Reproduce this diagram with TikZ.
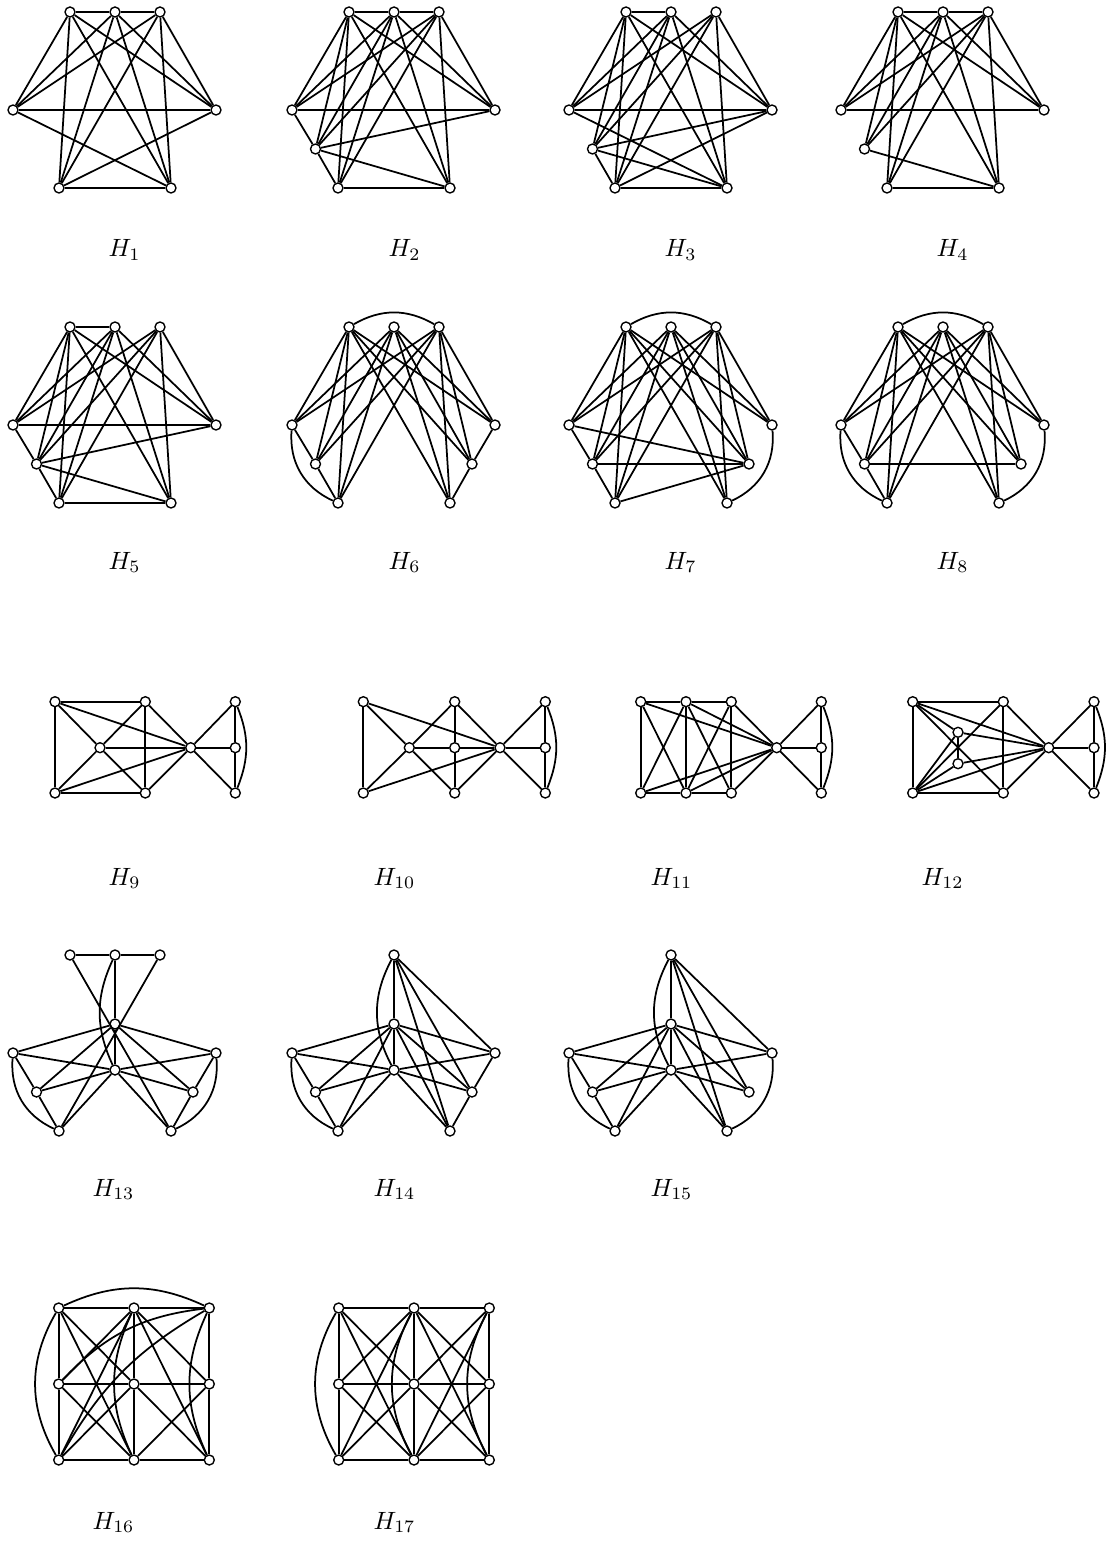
\documentclass[tikz,border=0pt]{standalone}
\newcommand\basenodes[1]{%
 \node[v] (#1T1) at (70,12) {};
 \node[v] (#1T2) at (115,12) {};
 \node[v] (#1T3) at (160,12) {};
 \node[v] (#1L) at (13,110) {};
 \node[v] (#1R) at (216,110) {};
 \node[v] (#1B1) at (59,188) {};
 \node[v] (#1B2) at (171,188) {};}
\newcommand\xnode[1]{\node[v] (#1X) at (36.5,149) {};}
\newcommand\ynode[1]{\node[v] (#1Y) at (193,149) {};}
\newcommand\cnodes[1]{\node[v] (#1C1) at (115,81) {};\node[v] (#1C2) at (115,127) {};}
\newcommand\edges[2]{\foreach \s/\t in {#2} {\draw[e] (#1\s) -- (#1\t);}}
\newcommand\tall[2]{\foreach \t in {#2} {\foreach \s in {T1,T2,T3} {\draw[e] (#1\s) -- (#1\t);}}}
\begin{document}
\begin{tikzpicture}[x=0.4pt,y=-0.4pt,
 v/.style={circle,draw,fill=white,inner sep=0pt,minimum size=4pt,line width=0.55pt},
 e/.style={line width=0.7pt},
 lab/.style={anchor=base west,inner sep=0pt}]
\useasboundingbox (0,0) rectangle (1110,1564);

% ---------- H1
\begin{scope}[shift={(0,0)}]
\basenodes{h1}
\edges{h1}{T1/T2,T2/T3,L/R,B1/B2,L/B2,R/B1}
\tall{h1}{L,R,B1,B2}
\end{scope}
% ---------- H2
\begin{scope}[shift={(279,0)}]
\basenodes{h2}\xnode{h2}
\edges{h2}{T1/T2,T2/T3,L/R,B1/B2,L/X,X/B1,X/R,X/B2}
\tall{h2}{L,R,B1,B2,X}
\end{scope}
% ---------- H3
\begin{scope}[shift={(556,0)}]
\basenodes{h3}\xnode{h3}
\edges{h3}{T1/T2,L/R,B1/B2,L/B2,X/R,X/B2,X/B1,R/B1}
\tall{h3}{L,R,B1,B2,X}
\end{scope}
% ---------- H4
\begin{scope}[shift={(828,0)}]
\basenodes{h4}\xnode{h4}
\edges{h4}{T1/T2,T2/T3,L/R,B1/B2,X/B2}
\tall{h4}{L,R,B1,B2,X}
\end{scope}
% ---------- H5
\begin{scope}[shift={(0,315)}]
\basenodes{h5}\xnode{h5}
\edges{h5}{T1/T2,L/R,B1/B2,L/X,X/B1,X/R,X/B2}
\tall{h5}{L,R,B1,B2,X}
\end{scope}
% ---------- H6
\begin{scope}[shift={(279,315)}]
\basenodes{h6}\xnode{h6}\ynode{h6}
\edges{h6}{L/X,X/B1,R/Y,Y/B2}
\tall{h6}{L,X,B1,R,Y,B2}
\draw[e] (h6T1) to[bend left=30] (h6T3);
\draw[e] (h6L) to[bend right=35] (h6B1);
\end{scope}
% ---------- H7
\begin{scope}[shift={(556,315)}]
\basenodes{h7}\xnode{h7}\ynode{h7}
\edges{h7}{L/X,X/B1,L/Y,X/Y,B1/Y}
\tall{h7}{L,X,B1,R,Y,B2}
\draw[e] (h7T1) to[bend left=30] (h7T3);
\draw[e] (h7R) to[bend left=35] (h7B2);
\end{scope}
% ---------- H8
\begin{scope}[shift={(828,315)}]
\basenodes{h8}\xnode{h8}\ynode{h8}
\edges{h8}{L/X,X/B1,X/Y}
\tall{h8}{L,X,B1,R,Y,B2}
\draw[e] (h8T1) to[bend left=30] (h8T3);
\draw[e] (h8L) to[bend right=35] (h8B1);
\draw[e] (h8R) to[bend left=35] (h8B2);
\end{scope}

% ---------- H9
\node[v] (h9a) at (55,701.7) {};
\node[v] (h9b) at (145.3,701.7) {};
\node[v] (h9c) at (235.3,701.7) {};
\node[v] (h9d) at (100,747.7) {};
\node[v] (h9e) at (190.7,747.7) {};
\node[v] (h9f) at (235.3,747.7) {};
\node[v] (h9g) at (55,793) {};
\node[v] (h9h) at (145.3,793) {};
\node[v] (h9i) at (235.3,793) {};
\edges{h9}{a/b,a/g,g/h,a/d,a/e,g/d,g/e,d/b,d/h,d/e,b/h,b/e,h/e,e/c,e/f,e/i,c/f,f/i}
\draw[e] (h9c) to[bend left=22] (h9i);
% ---------- H10
\node[v] (h10a) at (363.3,701.7) {};
\node[v] (h10b) at (454.7,701.7) {};
\node[v] (h10c) at (545.3,701.7) {};
\node[v] (h10d) at (409.3,747.7) {};
\node[v] (h10m) at (454.7,747.7) {};
\node[v] (h10e) at (500,747.7) {};
\node[v] (h10f) at (545.3,747.7) {};
\node[v] (h10g) at (363.3,793) {};
\node[v] (h10h) at (454.7,793) {};
\node[v] (h10i) at (545.3,793) {};
\edges{h10}{a/g,a/d,a/e,g/d,g/e,d/b,d/h,d/m,m/e,b/m,m/h,b/e,h/e,e/c,e/f,e/i,c/f,f/i}
\draw[e] (h10c) to[bend left=22] (h10i);
% ---------- H11
\node[v] (h11a) at (640.7,701.7) {};
\node[v] (h11b) at (686,701.7) {};
\node[v] (h11c) at (731.3,701.7) {};
\node[v] (h11p) at (821.3,701.7) {};
\node[v] (h11e) at (776.7,747.7) {};
\node[v] (h11f) at (821.3,747.7) {};
\node[v] (h11g) at (640.7,793) {};
\node[v] (h11h) at (686,793) {};
\node[v] (h11k) at (731.3,793) {};
\node[v] (h11q) at (821.3,793) {};
\edges{h11}{a/b,b/c,a/g,g/h,h/k,b/h,c/k,a/h,g/b,b/k,h/c,a/e,b/e,c/e,g/e,h/e,k/e,e/p,e/f,e/q,p/f,f/q}
\draw[e] (h11p) to[bend left=22] (h11q);
% ---------- H12
\node[v] (h12a) at (912.7,701.7) {};
\node[v] (h12b) at (1003.3,701.7) {};
\node[v] (h12u) at (958,732.3) {};
\node[v] (h12v) at (958,763.7) {};
\node[v] (h12e) at (1048.7,747.7) {};
\node[v] (h12c) at (1094,701.7) {};
\node[v] (h12f) at (1094,747.7) {};
\node[v] (h12i) at (1094,793) {};
\node[v] (h12g) at (912.7,793) {};
\node[v] (h12h) at (1003.3,793) {};
\edges{h12}{a/b,a/g,g/h,b/h,u/v,a/u,a/e,a/h,g/b,g/u,g/v,g/e,u/e,v/e,b/e,h/e,e/c,e/f,e/i,c/f,f/i}
\draw[e] (h12c) to[bend left=22] (h12i);

% ---------- H13
\begin{scope}[shift={(0,943)}]
\basenodes{h13}\xnode{h13}\ynode{h13}\cnodes{h13}
\edges{h13}{T1/T2,T2/T3,T2/C1,C1/C2,T1/B2,T3/B1,L/X,X/B1,R/Y,Y/B2,C1/L,C1/R,C1/X,C1/Y,C2/L,C2/R,C2/X,C2/Y,C2/B1,C2/B2}
\draw[e] (h13T2) to[bend right=25] (h13C2);
\draw[e] (h13L) to[bend right=35] (h13B1);
\draw[e] (h13R) to[bend left=35] (h13B2);
\end{scope}
% ---------- H14
\begin{scope}[shift={(279,943)}]
\node[v] (h14T2) at (115,12) {};
\node[v] (h14L) at (13,110) {};
\node[v] (h14R) at (216,110) {};
\node[v] (h14B1) at (59,188) {};
\node[v] (h14B2) at (171,188) {};
\xnode{h14}\ynode{h14}\cnodes{h14}
\edges{h14}{T2/C1,C1/C2,T2/R,T2/Y,T2/B2,L/X,X/B1,R/Y,Y/B2,C1/L,C1/R,C1/X,C1/Y,C1/B1,C1/B2,C2/L,C2/R,C2/X,C2/Y,C2/B1,C2/B2}
\draw[e] (h14T2) to[bend right=28] (h14C2);
\draw[e] (h14L) to[bend right=35] (h14B1);
\end{scope}
% ---------- H15
\begin{scope}[shift={(556,943)}]
\node[v] (h15T2) at (115,12) {};
\node[v] (h15L) at (13,110) {};
\node[v] (h15R) at (216,110) {};
\node[v] (h15B1) at (59,188) {};
\node[v] (h15B2) at (171,188) {};
\xnode{h15}\ynode{h15}\cnodes{h15}
\edges{h15}{T2/C1,C1/C2,T2/R,T2/Y,T2/B2,L/X,X/B1,C1/L,C1/R,C1/X,C1/Y,C1/B1,C1/B2,C2/L,C2/R,C2/X,C2/Y,C2/B1,C2/B2}
\draw[e] (h15T2) to[bend right=28] (h15C2);
\draw[e] (h15L) to[bend right=35] (h15B1);
\draw[e] (h15R) to[bend left=35] (h15B2);
\end{scope}

% ---------- H16
\foreach \r/\y in {1/1308,2/1384,3/1460} {\foreach \c/\x in {1/58.7,2/134,3/209.3} {\node[v] (h16n\r\c) at (\x,\y) {};}}
\edges{h16}{n11/n12,n12/n13,n21/n22,n22/n23,n31/n32,n32/n33,n11/n21,n21/n31,n12/n22,n22/n32,n13/n23,n23/n33,n11/n22,n12/n21,n21/n32,n22/n31,n22/n33,n23/n32,n11/n32,n12/n31,n12/n33,n12/n23}
\draw[e] (h16n11) to[bend left=25] (h16n13);
\draw[e] (h16n11) to[bend right=30] (h16n31);
\draw[e] (h16n12) to[bend right=25] (h16n32);
\draw[e] (h16n13) to[bend right=25] (h16n33);
\draw[e] (h16n13) to[bend right=20] (h16n21);
\draw[e] (h16n13) to[bend right=15] (h16n31);
% ---------- H17
\foreach \r/\y in {1/1308,2/1384,3/1460} {\foreach \c/\x in {1/338.7,2/414,3/489.3} {\node[v] (h17n\r\c) at (\x,\y) {};}}
\edges{h17}{n11/n12,n12/n13,n21/n22,n22/n23,n31/n32,n32/n33,n11/n21,n21/n31,n12/n22,n22/n32,n13/n23,n23/n33,n11/n22,n12/n21,n12/n23,n13/n22,n21/n32,n22/n31,n22/n33,n23/n32,n11/n32,n12/n31,n12/n33,n13/n32}
\draw[e] (h17n11) to[bend right=30] (h17n31);
\draw[e] (h17n12) to[bend right=28] (h17n32);
\draw[e] (h17n13) to[bend right=28] (h17n33);

% ---------- labels
\node[lab] at (108,257) {$H_1$};
\node[lab] at (388,257) {$H_2$};
\node[lab] at (664,257) {$H_3$};
\node[lab] at (936,257) {$H_4$};
\node[lab] at (108,569) {$H_5$};
\node[lab] at (388,569) {$H_6$};
\node[lab] at (664,569) {$H_7$};
\node[lab] at (936,569) {$H_8$};
\node[lab] at (108,885) {$H_9$};
\node[lab] at (373,885) {$H_{10}$};
\node[lab] at (650,885) {$H_{11}$};
\node[lab] at (921,885) {$H_{12}$};
\node[lab] at (92,1196) {$H_{13}$};
\node[lab] at (373,1196) {$H_{14}$};
\node[lab] at (650,1196) {$H_{15}$};
\node[lab] at (92,1529) {$H_{16}$};
\node[lab] at (373,1529) {$H_{17}$};
\end{tikzpicture}
\end{document}
